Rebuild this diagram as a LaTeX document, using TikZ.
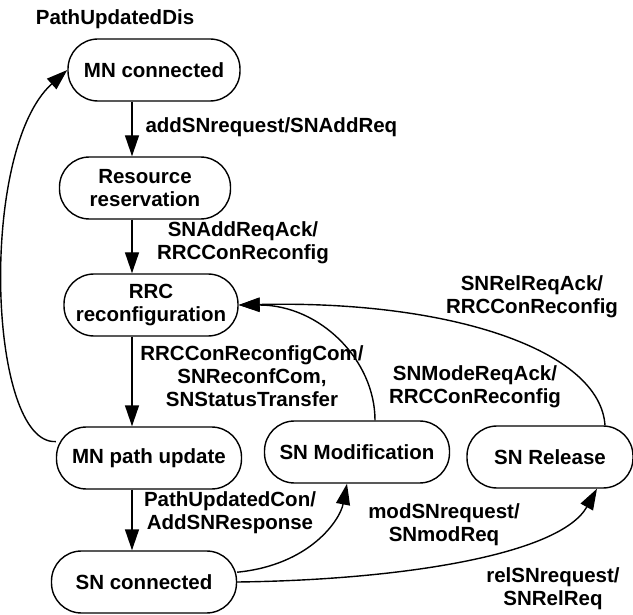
\documentclass[tikz,border=0pt]{standalone}
\usepackage{fontspec}
\setmainfont{Liberation Sans}
\usetikzlibrary{arrows.meta}

\begin{document}
\begin{tikzpicture}[x=1pt, y=-1pt,
	state/.style={draw, line width=1.4pt, rounded corners=30pt, minimum height=62pt, inner sep=0pt, align=center, font=\bfseries\fontsize{20.5}{23}\selectfont},
	lbl/.style={align=center, font=\bfseries\fontsize{20.5}{23}\selectfont},
	trans/.style={line width=1.4pt, arrows={-Triangle[length=21pt, width=14pt]}}]
	\useasboundingbox (0,0) rectangle (633,615);
	% states
	\node [state, minimum width=172pt] (mnconn) at (154,70) {MN connected};
	\node [state, minimum width=171pt] (resv) at (145,188) {Resource\\reservation};
	\node [state, minimum width=174pt] (rrc) at (151,305) {RRC\\reconfiguration};
	\node [state, minimum width=185pt] (mnpath) at (149,458) {MN path update};
	\node [state, minimum width=185pt] (snconn) at (144,582) {SN connected};
	\node [state, minimum width=185pt] (snmod) at (357,452) {SN Modification};
	\node [state, minimum width=166pt] (snrel) at (550,457) {SN Release};
	\coordinate (spine) at (132,0);
	% main chain
	\draw [trans] (mnconn.south -| spine) -- (resv.north -| spine);
	\draw [trans] (resv.south -| spine) -- (rrc.north -| spine);
	\draw [trans] (rrc.south -| spine) -- (mnpath.north -| spine);
	\draw [trans] (mnpath.south -| spine) -- (snconn.north -| spine);
	\draw [trans] (mnpath.170) .. controls (-12,445) and (-22,150) .. (mnconn.west);
	% SN side
	\draw [trans] ([xshift=18pt]snmod.north) .. controls (375,360) and (320,305) .. (rrc.east);
	\draw [trans] ([xshift=55pt]snrel.north) .. controls (600,350) and (450,300) .. (rrc.east);
	\draw [trans] (snconn.6) .. controls (310,565) and (340,520) .. ([xshift=-10pt]snmod.south);
	\draw [trans] (snconn.east) .. controls (400,580) and (560,555) .. ([xshift=47pt]snrel.south);
	% labels
	\node [lbl] (lpud) at (115,19) {PathUpdatedDis};
	\node [lbl, anchor=west] (ladd) at (142,127) {addSNrequest/SNAddReq};
	\node [lbl] (lack) at (243,243) {SNAddReqAck/\\RRCConReconfig};
	\node [lbl] (lcom) at (252,376) {RRCConReconfigCom/\\SNReconfCom,\\SNStatusTransfer};
	\node [lbl] (lrelack) at (532,297) {SNRelReqAck/\\RRCConReconfig};
	\node [lbl] (lmodack) at (475,387) {SNModeReqAck/\\RRCConReconfig};
	\node [lbl] (lpuc) at (230,513) {PathUpdatedCon/\\AddSNResponse};
	\node [lbl] (lmodreq) at (444,525) {modSNrequest/\\SNmodReq};
	\node [lbl] (lrelreq) at (553,589) {relSNrequest/\\SNRelReq};
\end{tikzpicture}
\end{document}
